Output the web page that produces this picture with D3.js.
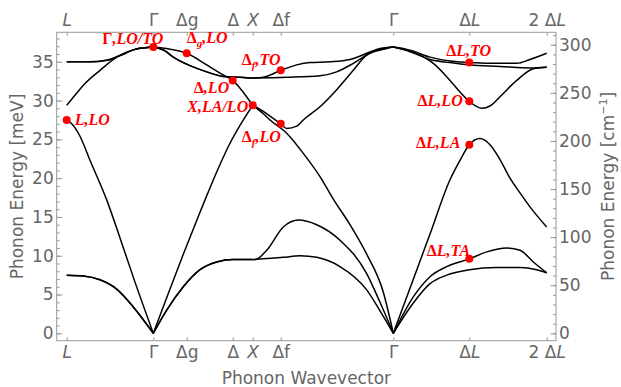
<!DOCTYPE html>
<html><head><meta charset="utf-8">
<script src="https://cdnjs.cloudflare.com/ajax/libs/d3/7.8.5/d3.min.js"></script>
<style>
body{margin:0;background:#fff;}
svg text{font-family:"DejaVu Sans",sans-serif;}
</style></head><body><div id="chart"></div>
<script>
// path coordinate of the high-symmetry points and their labels
var kpos = [0, 0.866, 1.2, 1.66, 1.86, 2.14, 3.266, 4.026, 4.8];
var klabels = ["L", "Γ", "Δg", "Δ", "X", "Δf", "Γ", "ΔL", "2 ΔL"];
var breaks = [0.866, 1.86, 3.266];   // segments are drawn separately here (cusps)

// branches as [path coordinate, energy meV]
var taLow = [[0,7.5],[0.166,7.4],[0.333,6.9],[0.5,5.7],[0.666,3.4],[0.866,0],
  [1.0,3.0],[1.166,6.0],[1.333,8.2],[1.5,9.2],[1.666,9.5],[1.86,9.5],
  [2.166,9.8],[2.333,10.0],[2.5,9.8],[2.733,8.6],[3.0,5.6],[3.133,2.9],[3.266,0],
  [3.466,3.9],[3.633,6.4],[3.8,7.5],[4.026,8.2],[4.3,8.5],[4.533,8.5],[4.7,8.2],[4.8,7.8]];
var taUp = [[0,7.5],[0.166,7.4],[0.333,6.9],[0.5,5.7],[0.666,3.4],[0.866,0],
  [1.0,3.0],[1.166,6.0],[1.333,8.2],[1.5,9.2],[1.666,9.5],[1.86,9.5],
  [1.883,9.5],[2.0,10.7],[2.166,13.7],[2.316,14.6],[2.5,14.0],[2.733,12.0],[3.0,7.7],[3.133,4.0],[3.266,0],
  [3.466,4.7],[3.633,7.3],[3.8,8.6],[4.026,9.6],[4.2,10.5],[4.4,11.0],[4.533,10.7],[4.666,9.2],[4.8,7.8]];
var la = [[0,27.5],[0.05,27.0],[0.133,25.4],[0.233,22.3],[0.4,17.2],[0.533,12.3],[0.683,6.6],[0.866,0],
  [1.0,4.6],[1.166,10.2],[1.333,15.6],[1.5,20.8],[1.633,24.5],[1.733,26.8],[1.86,29.4],
  [1.966,28.3],[2.033,27.5],[2.2,25.8],[2.366,23.2],[2.533,20.2],[2.666,17.3],[2.833,14.0],[3.0,10.2],[3.166,5.3],[3.266,0],
  [3.433,5.8],[3.633,12.8],[3.833,19.8],[3.933,22.3],[4.026,24.3],[4.133,25.1],[4.233,24.3],[4.333,22.4],[4.433,20.0],[4.533,18.1],[4.633,16.3],[4.8,13.7]];
var lo = [[0,29.4],[0.083,30.7],[0.183,32.2],[0.333,33.9],[0.5,35.6],[0.683,36.6],[0.866,36.9],
  [1.0,36.7],[1.2,36.1],[1.4,34.6],[1.566,33.3],[1.66,32.6],[1.733,31.6],[1.86,29.4],
  [1.966,28.6],[2.033,28.0],[2.14,27.0],[2.2,26.4],[2.3,26.7],[2.366,27.5],[2.533,29.2],[2.7,31.4],[2.866,33.9],[3.0,35.9],[3.1,36.5],[3.266,36.9],
  [3.433,36.3],[3.583,35.5],[3.666,34.8],[3.833,32.6],[3.933,31.1],[4.026,29.9],[4.15,29.0],[4.233,29.3],[4.333,30.5],[4.5,32.6],[4.666,34.1],[4.8,34.3]];
var to1 = [[0,35.0],[0.233,35.0],[0.4,35.2],[0.533,35.8],[0.683,36.6],[0.866,36.9],
  [0.983,36.4],[1.066,35.6],[1.233,34.5],[1.4,33.7],[1.566,33.1],[1.733,33.0],[1.86,32.9],
  [1.966,33.0],[2.14,33.9],[2.3,34.6],[2.433,34.9],[2.633,35.0],[2.833,35.3],[2.966,35.9],[3.1,36.6],[3.266,36.9],
  [3.433,36.5],[3.633,35.6],[3.833,35.1],[4.026,34.9],[4.233,34.8],[4.5,34.8],[4.633,35.3],[4.8,36.1]];
var to2 = [[0,35.0],[0.233,35.0],[0.4,35.2],[0.533,35.8],[0.683,36.6],[0.866,36.9],
  [0.983,36.4],[1.066,35.6],[1.233,34.5],[1.4,33.7],[1.566,33.1],[1.733,33.0],[1.86,32.9],
  [2.2,33.0],[2.533,33.2],[2.7,33.7],[2.866,34.8],[3.033,36.1],[3.2,36.7],[3.266,36.9],
  [3.433,36.4],[3.633,35.3],[3.833,34.9],[4.026,34.6],[4.333,34.4],[4.633,34.2],[4.8,34.3]];

// marked modes ("_x" = subscript x)
var markText = ["L,LO", "Γ,LO/TO", "Δ_g,LO", "Δ,LO", "X,LA/LO", "Δ_f,TO", "Δ_f,LO", "ΔL,TO", "ΔL,LO", "ΔL,LA", "ΔL,TA"];
var markK = [0, 0.866, 1.2, 1.66, 1.86, 2.14, 2.14, 4.026, 4.026, 4.026, 4.026];
var markE = [27.5, 36.9, 36.1, 32.6, 29.4, 33.9, 27.0, 34.9, 29.9, 24.3, 9.6];

var meVTicks = d3.range(0, 36, 5);
var cmTicks = d3.range(0, 301, 50);
var meVtoCm = 8.0655;

var width = 621, height = 387;
var x0 = 56.7, x1 = 556, yTop = 32.3, yBot = 340.7;

var svg = d3.select('#chart').append("svg")
  .attr("width", width)
  .attr("height", height);

var x = d3.scaleLinear().domain([-0.1, 4.893]).range([x0, x1]);
var y = d3.scaleLinear().domain([-0.95, 38.8]).range([yBot, yTop]);
var yc = d3.scaleLinear().domain([-0.95 * meVtoCm, 38.8 * meVtoCm]).range([yBot, yTop]);

var axisColor = "#999", labelColor = "#666";

function styleAxis(g) {
  g.select(".domain").remove();
  g.selectAll("line").attr("stroke", axisColor);
  g.selectAll("text").attr("fill", labelColor).style("font-size", "17px");
}

// minor ticks
svg.append("g").attr("transform", "translate(" + x0 + ",0)")
  .call(d3.axisLeft(y).tickValues(d3.range(0, 39, 1)).tickSize(-3).tickFormat(""))
  .call(styleAxis);
svg.append("g").attr("transform", "translate(" + x1 + ",0)")
  .call(d3.axisRight(yc).tickValues(d3.range(0, 311, 10)).tickSize(-3).tickFormat(""))
  .call(styleAxis);

// major ticks
svg.append("g").attr("transform", "translate(" + x0 + ",0)")
  .call(d3.axisLeft(y).tickValues(meVTicks).tickSize(-5.5).tickPadding(3))
  .call(styleAxis);
svg.append("g").attr("transform", "translate(" + x1 + ",0)")
  .call(d3.axisRight(yc).tickValues(cmTicks).tickSize(-5.5).tickPadding(3))
  .call(styleAxis);

var kFormat = function(d, i) { return klabels[i]; };
var bottomAxis = svg.append("g").attr("transform", "translate(0," + yBot + ")")
  .call(d3.axisBottom(x).tickValues(kpos).tickSize(-3.5).tickPadding(5).tickFormat(kFormat))
  .call(styleAxis);
var topAxis = svg.append("g").attr("transform", "translate(0," + yTop + ")")
  .call(d3.axisTop(x).tickValues(kpos).tickSize(-3.5).tickPadding(6).tickFormat(kFormat))
  .call(styleAxis);

// italic L and X on the path labels
[bottomAxis, topAxis].forEach(function(g) {
  g.selectAll(".tick text").each(function(d, i) {
    var t = d3.select(this), s = klabels[i];
    t.text(null);
    if (s === "L" || s === "X") {
      t.append("tspan").style("font-style", "italic").text(s);
    } else if (s.slice(-1) === "L") {
      t.append("tspan").text(s.slice(0, -1));
      t.append("tspan").style("font-style", "italic").text("L");
    } else {
      t.text(s);
    }
  });
});

// frame
svg.append("rect")
  .attr("x", x0).attr("y", yTop)
  .attr("width", x1 - x0).attr("height", yBot - yTop)
  .attr("fill", "none").attr("stroke", axisColor).attr("stroke-width", 1);

// axis titles
svg.append("text")
  .attr("transform", "translate(" + ((x0 + x1) / 2) + ",384)")
  .attr("text-anchor", "middle").attr("fill", labelColor).style("font-size", "17px")
  .text("Phonon Wavevector");
svg.append("text")
  .attr("transform", "translate(23," + ((yTop + yBot) / 2) + ") rotate(-90)")
  .attr("text-anchor", "middle").attr("fill", labelColor).style("font-size", "17px")
  .text("Phonon Energy [meV]");
var rt = svg.append("text")
  .attr("transform", "translate(614," + ((yTop + yBot) / 2) + ") rotate(-90)")
  .attr("text-anchor", "middle").attr("fill", labelColor).style("font-size", "17px");
rt.append("tspan").text("Phonon Energy [cm");
rt.append("tspan").attr("dy", -7).style("font-size", "11px").text("−1");
rt.append("tspan").attr("dy", 7).text("]");

// bands
var line = d3.line()
  .x(function(d) { return x(d[0]); })
  .y(function(d) { return y(d[1]); })
  .curve(d3.curveMonotoneX);

function pieces(pts) {
  var out = [], cur = [];
  pts.forEach(function(p, i) {
    cur.push(p);
    if (i > 0 && i < pts.length - 1 && breaks.indexOf(p[0]) >= 0) {
      out.push(cur);
      cur = [p];
    }
  });
  out.push(cur);
  return out;
}

[taLow, taUp, la, lo, to1, to2].forEach(function(b) {
  pieces(b).forEach(function(seg) {
    svg.append('path')
      .attr('d', line(seg))
      .attr('stroke', 'black')
      .attr('stroke-width', 1.5)
      .attr('fill', 'none');
  });
});

// marked modes
var place = [[8,5,"start"],[-51,-3,"start"],[0,-10,"start"],[-3.5,13,"end"],[-4.5,6.7,"end"],
  [-39,-5,"start"],[-39,17.7,"start"],[-23,-6.3,"start"],[-6.6,5,"end"],[-9,3.3,"end"],[-42.6,-3,"start"]];

// Greek letters upright, the rest bold italic
function addRuns(t, s, size) {
  s.split(/([ΓΔ])/).forEach(function(r) {
    if (!r) return;
    var sp = t.append("tspan").text(r);
    if (r === "Γ" || r === "Δ") sp.style("font-style", "normal");
    if (size) sp.style("font-size", size);
  });
}

markText.forEach(function(s, i) {
  var cx = x(markK[i]), cy = y(markE[i]);
  svg.append("circle").attr("cx", cx).attr("cy", cy).attr("r", 4).attr("fill", "red");
  var t = svg.append("text")
    .attr("x", cx + place[i][0]).attr("y", cy + place[i][1])
    .attr("text-anchor", place[i][2])
    .attr("fill", "red")
    .style("font-family", "'Liberation Serif', serif")
    .style("font-weight", "bold").style("font-style", "italic").style("font-size", "16px");
  var parts = s.split("_");
  addRuns(t, parts[0]);
  if (parts.length > 1) {
    t.append("tspan").attr("dy", 4).style("font-size", "11px").text(parts[1][0]);
    t.append("tspan").attr("dy", -4).text(parts[1].slice(1));
  }
});
</script>
</body></html>
